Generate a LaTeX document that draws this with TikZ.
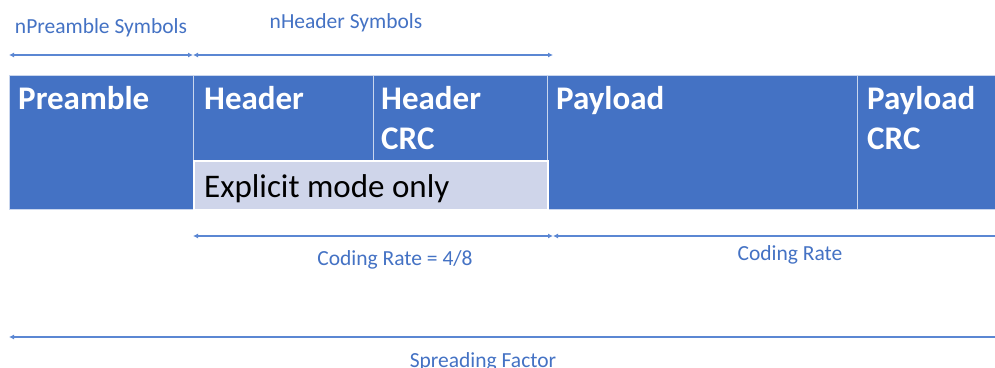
\documentclass[tikz,border=0pt]{standalone}
\usepackage{fontspec}
\setmainfont{Carlito}
\usetikzlibrary{arrows.meta}
\definecolor{lblue}{HTML}{4472C4}
\definecolor{lline}{HTML}{5B87D3}
\definecolor{lav}{HTML}{CFD5EA}
\definecolor{edge}{HTML}{C9D6EE}
\tikzset{
  cell/.style={rectangle, fill=lblue, draw=edge, line width=1pt, anchor=north west, inner sep=0pt},
  expbox/.style={rectangle, fill=lav, draw=white, line width=1.5pt, anchor=north west, inner sep=0pt},
  celltxt/.style={text=white, font=\bfseries\fontsize{33}{40}\selectfont, anchor=north west, inner sep=0pt, align=left},
  exptxt/.style={text=black, font=\fontsize{33}{38}\selectfont, anchor=base west, inner sep=0pt},
  lbl/.style={text=lblue, font=\fontsize{21.5}{25}\selectfont, anchor=base, inner sep=0pt},
  dim/.style={draw=lline, line width=1.2pt, {Latex[length=5pt,width=5pt]}-{Latex[length=5pt,width=5pt]}},
  diml/.style={draw=lline, line width=1.2pt, {Latex[length=5pt,width=5pt]}-},
}
\begin{document}
\begin{tikzpicture}[x=1pt,y=-1pt]
\useasboundingbox[fill=white] (0,0) rectangle (995,367);
% cells
\node[cell, minimum width=184pt, minimum height=134pt] (pre) at (9,75) {};
\node[cell, minimum width=180pt, minimum height=85pt] (hdr) at (193,75) {};
\node[cell, minimum width=174pt, minimum height=85pt] (hcrc) at (373,75) {};
\node[cell, minimum width=310pt, minimum height=134pt] (pay) at (547,75) {};
\node[cell, minimum width=140pt, minimum height=134pt] (pcrc) at (857,75) {};
\node[expbox, minimum width=354pt, minimum height=49pt] (expl) at (193,160) {};
% cell texts
\node[celltxt] (preT) at (18,86) {Preamble};
\node[celltxt] (hdrT) at (204,86) {Header};
\node[celltxt] (hcrcT) at (381,86) {Header\\CRC};
\node[celltxt] (payT) at (556,86) {Payload};
\node[celltxt] (pcrcT) at (867,86) {Payload\\CRC};
\node[exptxt] (explT) at (204,197) {Explicit mode only};
% dimension coordinates
\coordinate (p0) at (9,55);
\coordinate (p1) at (193,55);
\coordinate (p2) at (553,55);
\coordinate (c0) at (193,236);
\coordinate (c1) at (553,236);
\coordinate (c2) at (996,236);
\coordinate (s0) at (9,337);
\coordinate (s1) at (996,337);
\draw[dim] (p0) -- (p1);
\draw[dim] (p1) -- (p2);
\draw[dim] (c0) -- (c1);
\draw[diml] (c1) -- (c2);
\draw[diml] (s0) -- (s1);
% labels
\node[lbl] (preL) at (101,33) {nPreamble Symbols};
\node[lbl] (hdrL) at (346,28) {nHeader Symbols};
\node[lbl] (crL) at (395,265) {Coding Rate = 4/8};
\node[lbl] (cr2L) at (790,260) {Coding Rate};
\node[lbl] (sfL) at (483,367) {Spreading Factor};
\end{tikzpicture}
\end{document}
